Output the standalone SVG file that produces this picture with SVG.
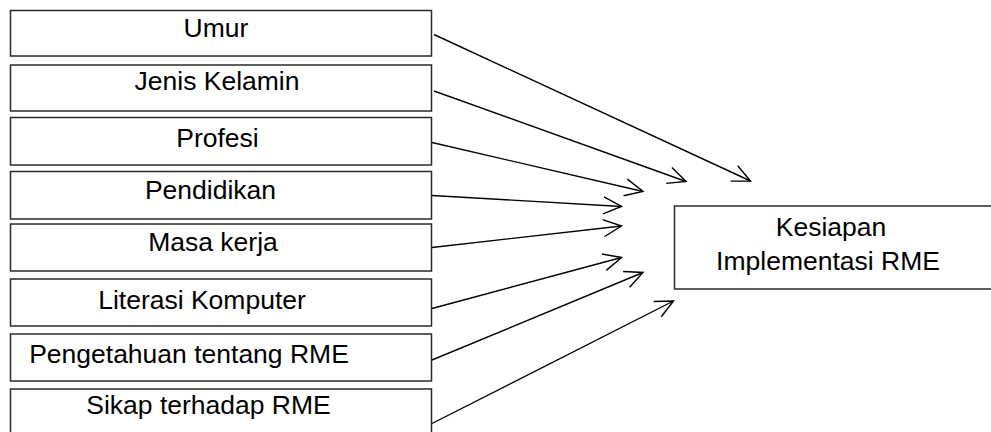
<svg xmlns="http://www.w3.org/2000/svg" width="991" height="432" viewBox="0 0 991 432">
<style>
.box{fill:#fff;stroke:#2a2a2a;stroke-width:1.5}
.lbl{font-family:"Liberation Sans",Arial,sans-serif;font-size:26.5px;fill:#000;text-anchor:middle}
.conn{stroke:#000;stroke-width:1.4;fill:none;marker-end:url(#arr)}
</style>
<defs>
<marker id="arr" markerUnits="userSpaceOnUse" viewBox="-20 -10 22 20" refX="0" refY="0" markerWidth="22" markerHeight="20" orient="auto" overflow="visible">
<path d="M-18,-8.5 L0,0 L-18,8.5" fill="none" stroke="#000" stroke-width="1.4"/>
</marker>
</defs>
<rect width="991" height="432" fill="#fff"/>
<g id="n1"><rect class="box" x="10.5" y="10.5" width="421" height="45.5"/><text class="lbl" x="216" y="36.5">Umur</text></g>
<g id="n2"><rect class="box" x="10.5" y="65" width="421" height="46"/><text class="lbl" x="217" y="90">Jenis Kelamin</text></g>
<g id="n3"><rect class="box" x="10.5" y="117.5" width="421" height="47.5"/><text class="lbl" x="217.5" y="146.5">Profesi</text></g>
<g id="n4"><rect class="box" x="10.5" y="171.5" width="421" height="47.5"/><text class="lbl" x="210.5" y="199">Pendidikan</text></g>
<g id="n5"><rect class="box" x="10.5" y="224" width="421" height="47"/><text class="lbl" x="213" y="250.5">Masa kerja</text></g>
<g id="n6"><rect class="box" x="10.5" y="279" width="421" height="47"/><text class="lbl" x="202" y="309">Literasi Komputer</text></g>
<g id="n7"><rect class="box" x="10.5" y="334" width="421" height="47"/><text class="lbl" x="189" y="363">Pengetahuan tentang RME</text></g>
<g id="n8"><rect class="box" x="10.5" y="389" width="421" height="60"/><text class="lbl" x="208.5" y="414">Sikap terhadap RME</text></g>
<g id="target"><rect class="box" x="674.5" y="206" width="330" height="83"/><text class="lbl" x="831" y="236">Kesiapan</text><text class="lbl" x="828" y="269.5">Implementasi RME</text></g>
<g id="connectors">
<line class="conn" x1="434" y1="34.5" x2="750.5" y2="181"/>
<line class="conn" x1="434" y1="91" x2="686" y2="181.5"/>
<line class="conn" x1="432" y1="142.5" x2="643" y2="191.5"/>
<line class="conn" x1="432" y1="195.5" x2="621.5" y2="206.5"/>
<line class="conn" x1="432" y1="247.5" x2="621.5" y2="226"/>
<line class="conn" x1="432" y1="308.5" x2="621.5" y2="257.5"/>
<line class="conn" x1="432" y1="360" x2="643" y2="272.5"/>
<line class="conn" x1="432" y1="423.5" x2="673.5" y2="301"/>
</g>
</svg>
